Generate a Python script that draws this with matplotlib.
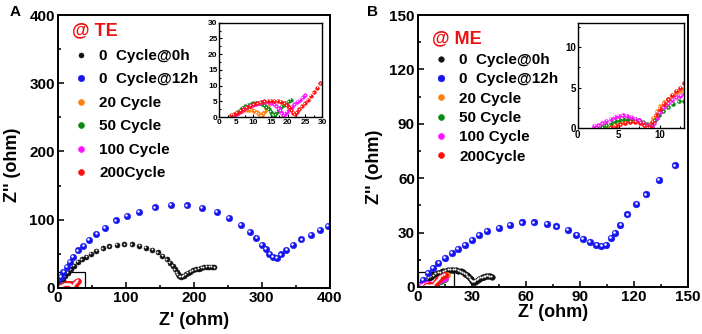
import matplotlib
matplotlib.use("Agg")
import matplotlib.pyplot as plt
from matplotlib import transforms
from matplotlib.patches import Rectangle
from matplotlib.ticker import MultipleLocator

plt.rcParams['font.family'] = ['Liberation Sans', 'DejaVu Sans']
plt.rcParams['font.weight'] = 'bold'

labels = ['0  Cycle@0h', '0  Cycle@12h', '20 Cycle', '50 Cycle', '100 Cycle', '200Cycle']
colors = ['#111111', '#1515f0', '#ff8010', '#0b8a10', '#ff10ff', '#ff1010']

# ---- panel A (TE) ----
a_black_x = [3, 5, 8, 11, 15, 19, 24, 30, 36, 42, 49, 57, 66, 76, 87, 98, 109, 120, 130, 139, 147, 154,
             160, 165, 169, 172, 175, 177, 179, 181, 183, 185, 188, 191, 195, 199, 203, 207, 211, 215,
             219, 223, 227, 230]
a_black_y = [3, 7, 12, 17, 22, 27, 32, 38, 42, 46, 50, 54, 58, 61, 63, 64, 64, 62, 59, 56, 52, 47,
             42, 37, 32, 27, 23, 20, 17, 16, 17, 18, 20, 22, 24, 26, 27, 28, 29, 30, 31, 31, 31, 30]
a_blue_x = [1, 5, 8.5, 13.5, 18, 23, 30, 38, 46, 57, 70, 86, 102, 120, 143, 167, 190, 212, 234, 252,
            269, 282, 292, 300, 306, 311, 316, 322, 328, 336, 346, 358, 372, 385, 397]
a_blue_y = [7, 16, 24, 31, 38, 46, 55, 62, 70, 79, 88, 99, 106, 112, 118, 122, 121, 117, 111, 102,
            92, 82, 73, 63, 57, 50, 45, 44, 49, 56, 63, 71, 78, 85, 91]
a_orange_x = [3.8, 4.3, 4.8, 5.4, 6.0, 6.7, 7.4, 8.1, 8.8, 9.5, 10.2, 10.9, 11.5, 12.0, 12.4, 12.8,
              13.3, 13.8, 14.3]
a_orange_y = [0.2, 0.6, 1.0, 1.4, 1.8, 2.1, 2.3, 2.4, 2.4, 2.3, 2.0, 1.6, 1.1, 0.6, 0.5, 1.2,
              2.0, 2.8, 3.5]
a_green_x = [4.0, 4.6, 5.3, 6.0, 6.8, 7.6, 8.4, 9.2, 10.0, 10.8, 11.6, 12.4, 13.1, 13.8, 14.4, 15.0,
             15.5, 15.9, 16.3, 16.8, 17.4, 18.1, 18.8, 19.5, 20.2, 20.9]
a_green_y = [0.3, 1.0, 1.7, 2.4, 3.0, 3.5, 3.9, 4.2, 4.4, 4.5, 4.4, 4.2, 3.8, 3.2, 2.5, 1.7,
             1.0, 0.5, 1.0, 1.8, 2.6, 3.3, 4.0, 4.6, 5.1, 5.5]
a_pink_x = [4.0, 4.7, 5.5, 6.3, 7.2, 8.1, 9.0, 9.9, 10.8, 11.7, 12.6, 13.5, 14.4, 15.2, 16.0, 16.7,
            17.3, 17.8, 18.2, 18.6, 19.1, 19.7, 20.4, 21.1, 21.9, 22.7, 23.5, 24.3, 25.0]
a_pink_y = [0.2, 0.7, 1.3, 1.9, 2.5, 3.1, 3.6, 4.0, 4.3, 4.6, 4.7, 4.8, 4.7, 4.5, 4.1, 3.5,
            2.8, 2.0, 1.2, 0.6, 1.1, 1.8, 2.6, 3.3, 4.1, 4.9, 5.6, 6.3, 7.0]
a_red_x = [3.5, 4.3, 5.2, 6.1, 7.1, 8.1, 9.1, 10.1, 11.1, 12.1, 13.1, 14.1, 15.1, 16.1, 17.1, 18.0,
           18.9, 19.7, 20.4, 21.0, 21.5, 22.0, 22.6, 23.3, 24.1, 24.9, 25.8, 26.7, 27.6, 28.6, 29.5]
a_red_y = [0.8, 1.0, 1.4, 2.0, 2.6, 3.2, 3.7, 4.1, 4.5, 4.8, 5.0, 5.2, 5.3, 5.3, 5.2, 4.9,
           4.4, 3.8, 3.1, 2.3, 1.5, 1.0, 1.6, 2.5, 3.5, 4.5, 5.6, 6.8, 8.0, 9.3, 10.8]

# ---- panel B (ME) ----
b_black_x = [0.5, 1.2, 2.0, 3.0, 4.0, 5.0, 6.2, 7.4, 8.7, 10.0, 11.4, 12.8, 14.2, 15.6, 17.0, 18.4,
             19.8, 21.2, 22.5, 23.8, 25.0, 26.1, 27.1, 28.0, 28.8, 29.5, 30.1, 30.6, 31.1, 31.7,
             32.4, 33.2, 34.1, 35.0, 36.0, 37.0, 38.0, 39.0, 40.0, 41.0]
b_black_y = [0.3, 0.9, 1.6, 2.4, 3.2, 4.0, 4.8, 5.6, 6.3, 7.0, 7.6, 8.1, 8.6, 9.0, 9.3, 9.4,
             9.4, 9.3, 9.0, 8.6, 8.0, 7.3, 6.6, 5.8, 5.0, 4.2, 3.5, 2.9, 2.6, 2.8,
             3.3, 3.9, 4.4, 4.9, 5.3, 5.6, 5.8, 5.9, 5.8, 5.5]
b_blue_x = [1.3, 3.1, 5.9, 8.7, 11.5, 15.0, 18.8, 22.5, 26.2, 30.0, 34.2, 38.2, 44.9, 51.2, 58.0,
            64.7, 71.5, 77.0, 83.5, 88.1, 91.8, 95.5, 99.2, 102.0, 104.7, 107.1, 109.4, 112.5,
            116.4, 121.4, 126.5, 133.7, 142.6]
b_blue_y = [1.3, 4.0, 7.7, 10.5, 13.2, 16.0, 18.7, 21.0, 23.3, 26.0, 28.5, 31.0, 32.7, 34.3, 35.6,
            35.6, 34.7, 33.4, 31.2, 28.8, 26.4, 24.8, 23.3, 22.4, 23.3, 27.0, 30.0, 34.0,
            40.0, 46.0, 51.0, 59.0, 67.0]
b_orange_x = [3.5, 4.0, 4.5, 5.0, 5.5, 6.0, 6.5, 7.0, 7.5, 8.0, 8.4, 8.7, 8.9, 9.2, 9.6, 10.0,
              10.5, 11.0, 11.5, 12.0, 12.5, 13.0, 14.0, 15.0, 16.0]
b_orange_y = [0.1, 0.3, 0.5, 0.7, 0.8, 0.9, 0.95, 0.95, 0.85, 0.6, 0.3, 0.1, 0.5, 1.3, 2.1, 2.7,
              3.2, 3.6, 4.0, 4.3, 4.6, 4.8, 5.4, 5.9, 6.4]
b_green_x = [3.0, 3.5, 4.0, 4.5, 5.0, 5.5, 6.0, 6.5, 7.0, 7.5, 8.0, 8.4, 8.7, 9.0, 9.4, 9.9, 10.4,
             11.0, 11.6, 12.3, 13.0, 14.0, 15.0]
b_green_y = [0.1, 0.4, 0.7, 0.9, 1.05, 1.15, 1.2, 1.2, 1.15, 1.0, 0.8, 0.5, 0.2, 0.4, 1.0, 1.6, 2.1,
             2.6, 3.0, 3.3, 3.4, 3.8, 4.2]
b_pink_x = [2.0, 2.5, 3.0, 3.5, 4.0, 4.5, 5.0, 5.5, 6.0, 6.5, 7.0, 7.5, 8.0, 8.4, 8.7, 9.0, 9.3,
            9.6, 10.0, 10.5, 11.0, 11.5, 12.0, 12.5, 13.0, 14.0, 15.0]
b_pink_y = [0.3, 0.4, 0.6, 0.9, 1.2, 1.4, 1.55, 1.6, 1.55, 1.4, 1.2, 1.0, 0.7, 0.4, 0.2, 0.1, 0.6,
            1.3, 2.0, 2.6, 3.1, 3.5, 3.8, 4.0, 4.2, 4.6, 5.0]
b_red_x = [4.0, 4.6, 5.2, 5.8, 6.4, 7.0, 7.6, 8.1, 8.5, 8.8, 9.1, 9.5, 10.0, 10.5, 11.0, 11.5, 12.0,
           12.5, 13.0, 14.0, 15.0]
b_red_y = [0.1, 0.3, 0.5, 0.7, 0.8, 0.8, 0.7, 0.4, 0.1, 0.1, 0.8, 1.6, 2.4, 3.0, 3.6, 4.1, 4.6,
           5.0, 5.6, 6.2, 6.8]

fig = plt.figure(figsize=(7.02, 3.34), dpi=100)


def balls(ax, x, y, color, ms, label=None):
    # coloured sphere with a small white highlight
    ax.plot(x, y, 'o', color=color, mec=color, ms=ms, mew=0.4, label=label)
    tr = transforms.offset_copy(ax.transData, fig=fig, x=-ms * 0.13, y=ms * 0.13, units='points')
    ax.plot(x, y, 'o', color='white', mec='none', ms=ms * 0.38, transform=tr)


def style(ax, lw, size, length):
    for s in ax.spines.values():
        s.set_linewidth(lw)
    ax.tick_params(which='both', direction='in', labelsize=size, width=lw * 0.8,
                   top=False, right=False, pad=2)
    ax.tick_params(which='major', length=length)
    ax.tick_params(which='minor', length=length * 0.6)
    for t in ax.get_xticklabels() + ax.get_yticklabels():
        t.set_fontweight('bold')


# ======== A ========
axA = fig.add_axes([0.082, 0.138, 0.388, 0.817])
sets_a = [(a_black_x, a_black_y), (a_blue_x, a_blue_y), (a_orange_x, a_orange_y),
          (a_green_x, a_green_y), (a_pink_x, a_pink_y), (a_red_x, a_red_y)]
sizes_a = [3.6, 4.6, 4.3, 4.3, 4.3, 4.3]
for (x, y), c, ms, lab in zip(sets_a, colors, sizes_a, labels):
    balls(axA, x, y, c, ms, lab)
axA.set_xlim(0, 400)
axA.set_ylim(0, 400)
axA.xaxis.set_major_locator(MultipleLocator(100))
axA.xaxis.set_minor_locator(MultipleLocator(50))
axA.yaxis.set_major_locator(MultipleLocator(100))
axA.yaxis.set_minor_locator(MultipleLocator(50))
style(axA, 1.4, 11, 4)
axA.set_xlabel("Z' (ohm)", fontsize=13, fontweight='bold', labelpad=5)
axA.set_ylabel("Z'' (ohm)", fontsize=13, fontweight='bold')
axA.yaxis.set_label_coords(-0.134, 0.45)
axA.add_patch(Rectangle((0, 0), 40, 24, fill=False, ec='black', lw=0.9))
legA = axA.legend(loc='upper left', bbox_to_anchor=(0.03, 0.995), frameon=False,
                  title='@ TE', alignment='left', prop={'size': 11, 'weight': 'bold'},
                  handletextpad=0.6, labelspacing=0.62, handlelength=1.2, borderaxespad=0)
legA.get_title().set_color('#ee1111')
legA.get_title().set_fontsize(13)
legA.get_title().set_fontweight('bold')
fig.text(0.014, 0.965, 'A', fontsize=11, fontweight='bold', va='center')

insA = fig.add_axes([0.312, 0.649, 0.147, 0.283])
for (x, y), c in list(zip(sets_a, colors))[2:]:
    balls(insA, x, y, c, 2.6)
insA.set_xlim(0, 30)
insA.set_ylim(0, 30)
insA.xaxis.set_major_locator(MultipleLocator(5))
insA.yaxis.set_major_locator(MultipleLocator(5))
insA.xaxis.set_minor_locator(MultipleLocator(2.5))
insA.yaxis.set_minor_locator(MultipleLocator(2.5))
style(insA, 1.0, 6, 2)
insA.tick_params(pad=1)

# ======== B ========
axB = fig.add_axes([0.595, 0.141, 0.385, 0.814])
sets_b = [(b_black_x, b_black_y), (b_blue_x, b_blue_y), (b_orange_x, b_orange_y),
          (b_green_x, b_green_y), (b_pink_x, b_pink_y), (b_red_x, b_red_y)]
sizes_b = [4.0, 4.8, 4.3, 4.3, 4.3, 4.3]
for (x, y), c, ms, lab in zip(sets_b, colors, sizes_b, labels):
    balls(axB, x, y, c, ms, lab)
axB.set_xlim(0, 150)
axB.set_ylim(0, 150)
axB.xaxis.set_major_locator(MultipleLocator(30))
axB.xaxis.set_minor_locator(MultipleLocator(15))
axB.yaxis.set_major_locator(MultipleLocator(30))
axB.yaxis.set_minor_locator(MultipleLocator(15))
style(axB, 1.4, 11, 4)
axB.set_xlabel("Z' (ohm)", fontsize=13, fontweight='bold', labelpad=0)
axB.set_ylabel("Z'' (ohm)", fontsize=13, fontweight='bold')
axB.yaxis.set_label_coords(-0.13, 0.44)
axB.add_patch(Rectangle((0, 0), 20, 8.2, fill=False, ec='black', lw=0.9))
legB = axB.legend(loc='upper left', bbox_to_anchor=(0.03, 0.965), frameon=False,
                  title='@ ME', alignment='left', prop={'size': 11, 'weight': 'bold'},
                  handletextpad=0.6, labelspacing=0.35, handlelength=1.2, borderaxespad=0)
legB.get_title().set_color('#ee1111')
legB.get_title().set_fontsize(13)
legB.get_title().set_fontweight('bold')
fig.text(0.523, 0.965, 'B', fontsize=11, fontweight='bold', va='center')

insB = fig.add_axes([0.823, 0.616, 0.152, 0.316])
for (x, y), c in list(zip(sets_b, colors))[2:]:
    balls(insB, x, y, c, 2.8)
insB.set_xlim(0, 13)
insB.set_ylim(0, 13)
insB.xaxis.set_major_locator(MultipleLocator(5))
insB.yaxis.set_major_locator(MultipleLocator(5))
insB.xaxis.set_minor_locator(MultipleLocator(2.5))
insB.yaxis.set_minor_locator(MultipleLocator(2.5))
style(insB, 1.0, 7, 2)
insB.tick_params(pad=1)

fig.savefig('out.png', dpi=100)
